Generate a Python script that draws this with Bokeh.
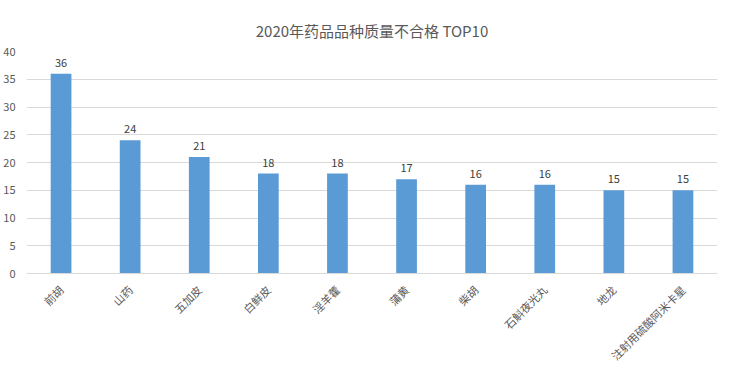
import math
from bokeh.plotting import figure
from bokeh.models import ColumnDataSource, Range1d, SingleIntervalTicker, LabelSet
from bokeh.core.properties import value
from bokeh.embed import file_html
from bokeh.resources import INLINE

categories = ["前胡", "山药", "五加皮", "白鲜皮", "淫羊藿", "蒲黄", "柴胡", "石斛夜光丸", "地龙", "注射用硫酸阿米卡星"]
counts = [36, 24, 21, 18, 18, 17, 16, 16, 15, 15]
title_text = "2020年药品品种质量不合格 TOP10"

FONT = "Noto Sans CJK SC"
source = ColumnDataSource(dict(cat=categories, val=counts, lbl=[str(v) for v in counts]))

p = figure(frame_width=691, frame_height=222, x_range=categories, y_range=Range1d(0, 40),
           output_backend="svg", toolbar_location=None,
           min_border_left=23, min_border_right=5, min_border_top=51, min_border_bottom=20)
p.title.text = title_text
p.title.align = "center"
p.title.text_font = FONT
p.title.text_font_size = "15px"
p.title.text_font_style = "normal"
p.title.text_color = "#595959"
p.title.standoff = 22

p.vbar(x="cat", top="val", width=0.3, source=source, fill_color="#5B9BD5", line_color=None)

labels = LabelSet(x="cat", y="val", text="lbl", source=source, text_align="center",
                  text_baseline="bottom", y_offset=7, text_font_size="11px",
                  text_color="#404040", text_font=value(FONT))
p.add_layout(labels)

p.x_range.range_padding = 0
p.yaxis.ticker = SingleIntervalTicker(interval=5)
p.yaxis.axis_line_color = None
p.yaxis.major_tick_line_color = None
p.yaxis.minor_tick_line_color = None
p.yaxis.major_label_text_font_size = "11px"
p.yaxis.major_label_text_color = "#595959"
p.yaxis.major_label_text_font = FONT
p.yaxis.major_label_standoff = 5

p.xaxis.axis_line_color = "#d9d9d9"
p.xaxis.major_tick_line_color = None
p.xaxis.minor_tick_line_color = None
p.xaxis.major_label_orientation = math.pi / 4
p.xaxis.major_label_text_font_size = "11px"
p.xaxis.major_label_text_color = "#595959"
p.xaxis.major_label_text_font = FONT
p.xaxis.major_label_standoff = 8

p.xgrid.grid_line_color = None
p.ygrid.grid_line_color = "#d9d9d9"
p.outline_line_color = None
p.border_fill_color = "white"

open("out.html", "w").write(file_html(p, INLINE))
